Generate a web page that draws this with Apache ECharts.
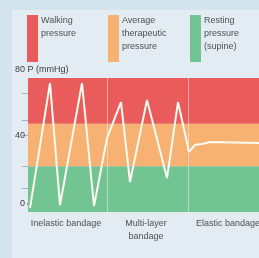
<!DOCTYPE html>
<html>
<head>
<meta charset="utf-8">
<script src="https://cdn.jsdelivr.net/npm/echarts@6/dist/echarts.min.js"></script>
<style>
  html, body { margin: 0; padding: 0; background: #d4e4ef; }
  #chart { width: 259px; height: 258px; }
</style>
</head>
<body>
<div id="chart"></div>
<script>
// time along the x axis (arbitrary units) and pressure in mmHg
var timeVals = [2, 22, 32, 54, 66, 79, 93, 102, 119, 139, 150, 161, 167, 175, 182, 231];
var pressure = [-2.7, 71, -0.9, 71, -1.5, 38.6, 59.8, 12.7, 61, 15, 59.8, 30.4, 34.5, 35.2, 36.3, 35.7];

// bandage sections and where their labels sit
var bandages = ['Inelastic bandage', 'Multi-layer\nbandage', 'Elastic bandage'];
var bandagePos = [38, 118, 200];
var sectionBreaks = [79, 160];

// pressure zones
var zoneNames = ['Resting\npressure\n(supine)', 'Average\ntherapeutic\npressure', 'Walking\npressure'];
var zoneLow = [-5, 22, 47];
var zoneHigh = [22, 47, 74];
var zoneColors = ['#72c593', '#f6b173', '#ea5c5c'];

var yLabels = [0, 40];
var yTicks = [9, 22, 40, 49, 65];

var font = '"Liberation Sans Narrow", "Liberation Sans", sans-serif';

var lineData = timeVals.map(function (t, i) { return [t, pressure[i]]; });

var zoneAreas = zoneLow.map(function (lo, i) {
  return [{ yAxis: lo, itemStyle: { color: zoneColors[i] } }, { yAxis: zoneHigh[i] }];
});

// legend drawn as coloured bars with labels
var legendX = [190, 108, 27];
var legendGraphic = [];
zoneNames.forEach(function (name, i) {
  legendGraphic.push({
    type: 'rect', left: legendX[i], top: 15,
    shape: { width: 11, height: 47 },
    style: { fill: zoneColors[i] }
  });
  legendGraphic.push({
    type: 'text', left: legendX[i] + 14, top: 14,
    style: { text: name, font: '9px ' + font, fill: '#505050', lineHeight: 13 }
  });
});

var chart = echarts.init(document.getElementById('chart'));
chart.setOption({
  animation: false,
  backgroundColor: '#d4e4ef',
  grid: { left: 28, right: 0, top: 78, bottom: 46, containLabel: false, outerBoundsMode: 'none' },
  graphic: [
    { type: 'rect', left: 12, top: 10, z: -10, shape: { width: 247, height: 248 }, style: { fill: '#e3ecf3' } },
    { type: 'text', left: 15, top: 65, style: { text: '80 P (mmHg)', font: '9px ' + font, fill: '#404040' } }
  ].concat(legendGraphic),
  xAxis: {
    type: 'value', min: 0, max: 231,
    axisLine: { lineStyle: { color: '#111', width: 1.5 } },
    axisTick: { show: false },
    splitLine: { show: false },
    axisLabel: {
      customValues: bandagePos,
      formatter: function (v) { return bandages[bandagePos.indexOf(v)] || ''; },
      color: '#505050', fontSize: 9, fontFamily: font, lineHeight: 13, margin: 5
    }
  },
  yAxis: {
    type: 'value', min: -5, max: 74,
    axisLine: { show: false },
    splitLine: { show: false },
    axisTick: { show: true, customValues: yTicks, length: 6, lineStyle: { color: '#9fb3c2' } },
    axisLabel: { customValues: yLabels, color: '#404040', fontSize: 9, fontFamily: font, margin: 3 }
  },
  series: [{
    type: 'line',
    data: lineData,
    symbol: 'none',
    lineStyle: { color: '#fffbf0', width: 2 },
    markArea: { silent: true, label: { show: false }, data: zoneAreas },
    markLine: {
      silent: true, symbol: 'none', label: { show: false },
      lineStyle: { color: '#ffffff', width: 1, type: 'solid', opacity: 0.45 },
      data: sectionBreaks.map(function (x) { return { xAxis: x }; })
    }
  }]
});
</script>
</body>
</html>
